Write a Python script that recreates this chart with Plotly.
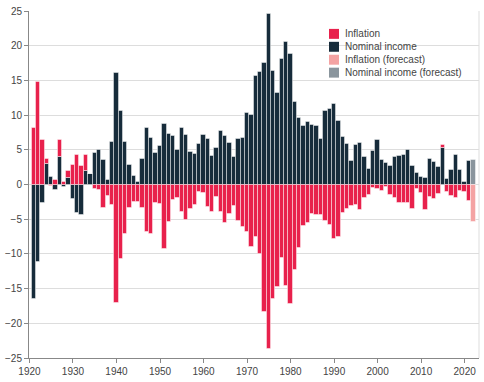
import plotly.graph_objects as go

years = list(range(1921, 2022))
nominal_income = [
    -16.5, -11.2, -2.6, 3.0, 1.1, -0.8, 4.0, -0.35, 1.0, -2.15,
    -4.05, -4.45, 2.0, 1.45, 4.55, 5.0, 3.6, 0.7, 6.15, 16.0,
    10.65, 6.1, 2.8, 1.2, 0.3, 3.65, 8.1, 6.75, 4.6, 5.6,
    8.75, 7.25, 7.0, 4.9, 8.2, 7.1, 4.75, 4.45, 5.8, 7.1,
    6.55, 4.15, 5.2, 7.65, 6.95, 6.0, 3.9, 6.55, 6.7, 10.25,
    9.95, 15.65, 16.15, 17.55, 24.6, 16.35, 13.15, 18.1, 20.5, 18.75,
    11.9, 9.55, 8.45, 9.05, 8.55, 8.45, 6.55, 10.6, 10.85, 11.55,
    9.2, 6.8, 5.9, 3.4, 5.65, 6.0, 4.0, 2.3, 4.8, 6.45,
    3.55, 3.05, 2.7, 4.0, 4.15, 4.3, 4.9, 2.7, 1.65, 1.15,
    0.95, 3.7, 3.3, 2.5, 5.2, 0.8, 2.1, 4.3, 2.15, 0.35,
    3.4,
]
inflation = [
    8.1, 14.7, 6.45, 0.7, -0.25, 0.7, 2.45, 0.35, 0.9, 2.8,
    4.3, 2.6, 2.2, 0.0, -0.7, -0.8, -3.35, -1.6, -3.0, -17.05,
    -10.75, -7.1, -3.4, -2.55, -2.45, -3.35, -6.85, -7.2, -2.65, -2.8,
    -9.25, -5.4, -2.3, -1.9, -3.9, -5.15, -3.6, -2.9, -1.1, -1.25,
    -3.2, -3.9, -1.85, -3.9, -5.55, -4.25, -3.05, -5.25, -6.1, -6.8,
    -8.95, -7.5, -9.95, -18.3, -23.65, -16.5, -14.8, -10.65, -14.6, -17.25,
    -12.3, -9.15, -5.95, -5.5, -4.3, -4.45, -4.45, -5.25, -5.9, -7.8,
    -7.6, -4.05, -3.6, -3.1, -2.9, -3.7, -1.95, -1.55, -0.55, -0.6,
    -0.95, -0.4, -1.45, -1.95, -2.7, -2.65, -2.65, -3.6, -0.6, -1.2,
    -3.7, -1.8, -2.15, -1.3, 0.5, -1.1, -1.65, -1.95, -0.95, -1.05,
    -2.4,
]
forecast_years = [2022]
nominal_income_forecast = [3.6]
inflation_forecast = [-5.4]

x_tick_vals = [1920, 1930, 1940, 1950, 1960, 1970, 1980, 1990, 2000, 2010, 2020]
y_tick_vals = [-25, -20, -15, -10, -5, 0, 5, 10, 15, 20, 25]

series_names = ["Inflation", "Nominal income", "Inflation (forecast)", "Nominal income (forecast)"]
series_colors = ["#e8214c", "#172c3b", "#f4a3a3", "#8a959d"]

FONT = "Liberation Sans, Arial, sans-serif"
edge = dict(color="rgba(255,255,255,0.45)", width=1)

fig = go.Figure()
fig.add_trace(go.Bar(x=years, y=nominal_income, name=series_names[1],
                     marker=dict(color=series_colors[1], line=edge), showlegend=False))
fig.add_trace(go.Bar(x=years, y=inflation, name=series_names[0],
                     marker=dict(color=series_colors[0], line=edge), showlegend=False))
fig.add_trace(go.Bar(x=forecast_years, y=nominal_income_forecast, name=series_names[3],
                     marker=dict(color=series_colors[3], line=edge), showlegend=False))
fig.add_trace(go.Bar(x=forecast_years, y=inflation_forecast, name=series_names[2],
                     marker=dict(color=series_colors[2], line=edge), showlegend=False))

# plot area geometry (pixels) for the hand-made legend
L, R, T, B = 29, 5, 11, 22
W, H = 484, 382
pw, ph = W - L - R, H - T - B

def xp(px):
    return (px - L) / pw

def yp(py):
    return (H - B - py) / ph

shapes = [dict(type="line", xref="paper", yref="paper", x0=1, x1=1, y0=0, y1=1,
               line=dict(color="#dddddd", width=1))]
annotations = []
row_y = [34, 47, 60, 73]
for name, color, cy in zip(series_names, series_colors, row_y):
    shapes.append(dict(type="rect", xref="paper", yref="paper",
                       x0=xp(329), x1=xp(339), y0=yp(cy + 5), y1=yp(cy - 5),
                       fillcolor=color, line=dict(width=0)))
    annotations.append(dict(xref="paper", yref="paper", x=xp(343), y=yp(cy),
                            xanchor="left", yanchor="middle", text=name, showarrow=False,
                            font=dict(family=FONT, size=10, color="#444444")))

fig.update_layout(
    width=W, height=H,
    margin=dict(l=L, r=R, t=T, b=B),
    barmode="relative", bargap=0,
    paper_bgcolor="white", plot_bgcolor="white",
    font=dict(family=FONT, size=10, color="#444444"),
    shapes=shapes, annotations=annotations,
    xaxis=dict(range=[1919.9, 2023.3], tickvals=x_tick_vals, showgrid=False,
               showline=True, linecolor="#888888", linewidth=1,
               ticks="outside", ticklen=4, tickcolor="#888888", zeroline=False),
    yaxis=dict(range=[-25, 25], tickvals=y_tick_vals, showgrid=True,
               gridcolor="#dddddd", gridwidth=1, showline=True, linecolor="#888888",
               linewidth=1, ticks="outside", ticklen=4, tickcolor="#888888",
               zeroline=False),
)

fig.write_html("out.html", config={"displayModeBar": False},
               post_script="document.body.style.margin='0px';")
